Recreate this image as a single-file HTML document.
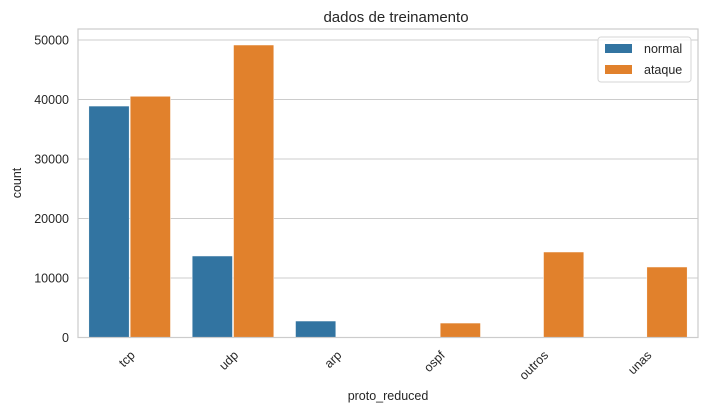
<!DOCTYPE html>
<html><head><meta charset="utf-8"><style>
body{margin:0;background:#fff;font-family:"Liberation Sans",Arial,sans-serif}
</style></head><body>
<svg id="chart" width="708" height="414" xmlns="http://www.w3.org/2000/svg"></svg>
<script>
const categories=["tcp","udp","arp","ospf","outros","unas"];
const normalValues=[38900,13700,2770,0,0,0];
const ataqueValues=[40540,49160,0,2430,14370,11850];
const yTicks=[0,10000,20000,30000,40000,50000];
const seriesNames=["normal","ataque"];
const colors=["#3274a1","#e1812c"];
const L=78,R=698,T=29,B=337.5;
const svg=document.getElementById('chart');
const NS="http://www.w3.org/2000/svg";
function y(v){return B-v*(B-40)/50000;}
const band=(R-L)/categories.length;
function xc(i){return L+band*(i+0.5);}
function el(t,a,txt){const e=document.createElementNS(NS,t);for(const k in a)e.setAttribute(k,a[k]);if(txt!==undefined)e.textContent=txt;svg.appendChild(e);return e;}
yTicks.forEach(v=>{
 const g=el('line',{x1:L,x2:R,y1:y(v),y2:y(v),stroke:'#cccccc','stroke-width':1});
 
 
 const t=el('text',{x:L-9,y:y(v)+4.5,'text-anchor':'end','font-size':12.5,fill:'#262626'},String(v));
 
 
});
const bw=band*0.4;
[normalValues,ataqueValues].forEach((vals,s)=>{
 vals.forEach((v,i)=>{
  if(v<=0)return;
  const x=xc(i)-bw+s*bw;
  const r=el('rect',{x:x+0.5,y:y(v),width:bw-1,height:B-y(v),fill:colors[s],stroke:'#fff','stroke-width':0.5});
  
  
 });
});
const fr=el('rect',{x:L,y:T,width:R-L,height:B-T,fill:'none',stroke:'#cccccc','stroke-width':1.2});


categories.forEach((c,i)=>{
 const ax=xc(i)+6, ay=356;
 const t=el('text',{x:ax,y:ay,'text-anchor':'end','font-size':12.5,fill:'#262626',transform:`rotate(-45 ${ax} ${ay})`},c);
 
 
});
const ti=el('text',{x:(L+R)/2+8,y:22,'text-anchor':'middle','font-size':15,fill:'#262626'},'dados de treinamento');


const xt=el('text',{x:(L+R)/2,y:400,'text-anchor':'middle','font-size':12.5,fill:'#262626'},'proto_reduced');


const yt=el('text',{x:21,y:183,'text-anchor':'middle','font-size':12.5,fill:'#262626',transform:'rotate(-90 21 183)'},'count');


const lb=el('rect',{x:598,y:37,width:93,height:45,rx:3,fill:'#fff','fill-opacity':0.8,stroke:'#d6d6d6'});


seriesNames.forEach((n,s)=>{
 const r=el('rect',{x:605,y:44+s*21,width:27,height:9,fill:colors[s]});
 
 
 const t=el('text',{x:644,y:53+s*21,'font-size':12.5,fill:'#262626'},n);
 
 
});
</script>
</body></html>
